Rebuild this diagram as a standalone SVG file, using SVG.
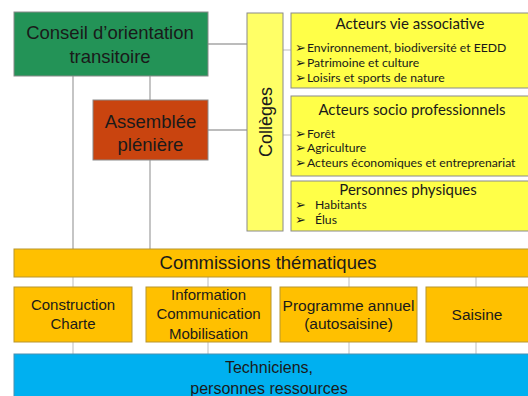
<svg xmlns="http://www.w3.org/2000/svg" width="528" height="396" viewBox="0 0 528 396">
<style>
.bx{stroke:#8a8a8a;stroke-width:1}
.gd{stroke:#b8952e;stroke-width:1;fill:#ffc000}
.ln{stroke:#a6a6a6;stroke-width:1.3;fill:none}
.lt{stroke:#c8c8c8;stroke-width:1.2;fill:none}
.big{font-family:"Liberation Sans",Arial,sans-serif;fill:#1a1a1a;text-anchor:middle}
.cal{font-family:Lato,"DejaVu Sans",sans-serif;fill:#1a1a1a}
.ttl{font-size:15px;text-anchor:middle}
.li{font-size:12.2px}
.ar{font-family:"DejaVu Sans",sans-serif;font-size:13px;fill:#1a1a1a}
</style>
<rect width="528" height="396" fill="#ffffff"/>
<g id="connectors">
<line class="ln" x1="208" y1="44" x2="247" y2="44"/>
<line class="ln" x1="208" y1="130" x2="247" y2="130"/>
<line class="lt" x1="283" y1="50" x2="291" y2="50"/>
<line class="lt" x1="283" y1="135" x2="291" y2="135"/>
<line class="ln" x1="73" y1="76" x2="73" y2="249"/>
<line class="ln" x1="150" y1="76" x2="150" y2="100"/>
<line class="ln" x1="150" y1="160" x2="150" y2="249"/>
<line class="lt" x1="73" y1="277" x2="73" y2="287"/>
<line class="lt" x1="208" y1="277" x2="208" y2="287"/>
<line class="lt" x1="349" y1="277" x2="349" y2="287"/>
<line class="lt" x1="476" y1="277" x2="476" y2="287"/>
<line class="lt" x1="73" y1="342" x2="73" y2="354"/>
<line class="lt" x1="208" y1="342" x2="208" y2="354"/>
<line class="lt" x1="349" y1="342" x2="349" y2="354"/>
<line class="lt" x1="476" y1="342" x2="476" y2="354"/>
</g>
<g id="conseil">
<rect class="bx" x="14" y="12" width="194" height="64" fill="#239357"/>
<text class="big" font-size="18.5" x="110" y="39">Conseil d’orientation</text>
<text class="big" font-size="18.5" x="110" y="63">transitoire</text>
</g>
<g id="assemblee">
<rect class="bx" x="93" y="100" width="115" height="60" fill="#c9440f"/>
<text class="big" font-size="18.5" x="150.5" y="128">Assemblée</text>
<text class="big" font-size="18.5" x="150.5" y="151">plénière</text>
</g>
<g id="colleges">
<rect class="bx" x="247" y="13" width="36" height="218" fill="#ffff66"/>
<text class="big" font-size="18" transform="translate(271.5,122) rotate(-90)" x="0" y="0">Collèges</text>
</g>
<g id="vie-associative">
<rect class="bx" x="291" y="13" width="245" height="75" fill="#ffff48"/>
<text class="cal ttl" x="410" y="29">Acteurs vie associative</text>
<text class="ar" x="295" y="52">➢</text>
<text class="cal li" x="307" y="52">Environnement, biodiversité  et EEDD</text>
<text class="ar" x="295" y="67">➢</text>
<text class="cal li" x="307" y="67">Patrimoine et culture</text>
<text class="ar" x="295" y="82">➢</text>
<text class="cal li" x="307" y="82">Loisirs et sports de nature</text>
</g>
<g id="socio-pro">
<rect class="bx" x="291" y="96" width="245" height="80" fill="#ffff48"/>
<text class="cal ttl" x="412" y="115">Acteurs socio professionnels</text>
<text class="ar" x="295" y="138">➢</text>
<text class="cal li" x="307" y="138">Forêt</text>
<text class="ar" x="295" y="152">➢</text>
<text class="cal li" x="307" y="152">Agriculture</text>
<text class="ar" x="295" y="167">➢</text>
<text class="cal li" x="307" y="167">Acteurs économiques  et entreprenariat</text>
</g>
<g id="personnes-physiques">
<rect class="bx" x="291" y="181" width="245" height="50" fill="#ffff48"/>
<text class="cal ttl" x="408" y="195">Personnes physiques</text>
<text class="ar" x="295" y="209">➢</text>
<text class="cal li" x="315" y="209">Habitants</text>
<text class="ar" x="295" y="224">➢</text>
<text class="cal li" x="315" y="224">Élus</text>
</g>
<g id="commissions">
<rect class="gd" x="14" y="249" width="520" height="28"/>
<text class="big" font-size="18.5" x="268" y="269">Commissions thématiques</text>
</g>
<g id="construction">
<rect class="gd" x="14" y="287" width="118" height="55"/>
<text class="big" font-size="15" x="73" y="310">Construction</text>
<text class="big" font-size="15" x="73" y="329">Charte</text>
</g>
<g id="information">
<rect class="gd" x="146" y="287" width="125" height="55"/>
<text class="big" font-size="15" x="208.5" y="300">Information</text>
<text class="big" font-size="15" x="208.5" y="319">Communication</text>
<text class="big" font-size="15" x="208.5" y="339">Mobilisation</text>
</g>
<g id="programme">
<rect class="gd" x="280" y="287" width="137" height="55"/>
<text class="big" font-size="15.5" x="348.5" y="311">Programme annuel</text>
<text class="big" font-size="15.5" x="348.5" y="329">(autosaisine)</text>
</g>
<g id="saisine">
<rect class="gd" x="426" y="287" width="110" height="55"/>
<text class="big" font-size="15.5" x="477" y="320">Saisine</text>
</g>
<g id="techniciens">
<rect x="14" y="354" width="520" height="50" fill="#00b0f0" stroke="#4a8fb0" stroke-width="1"/>
<text class="big" font-size="16" x="269" y="373">Techniciens,</text>
<text class="big" font-size="16" x="269" y="394">personnes ressources</text>
</g>
</svg>
